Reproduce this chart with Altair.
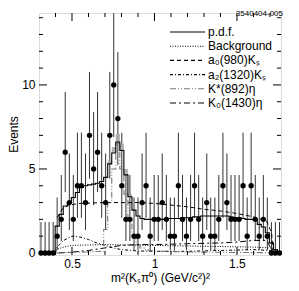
import altair as alt
import pandas as pd

# ---------------- data ----------------
x_bins = [0.312, 0.337, 0.361, 0.386, 0.410, 0.435, 0.459, 0.484, 0.508, 0.533,
          0.557, 0.582, 0.606, 0.631, 0.655, 0.680, 0.704, 0.729, 0.753, 0.778,
          0.802, 0.827, 0.851, 0.876, 0.900, 0.925, 0.949, 0.974, 0.998, 1.023,
          1.047, 1.072, 1.096, 1.121, 1.145, 1.170, 1.194, 1.219, 1.243, 1.268,
          1.292, 1.317, 1.341, 1.366, 1.390, 1.415, 1.439, 1.464, 1.488, 1.513,
          1.537, 1.562, 1.586, 1.611, 1.635, 1.660, 1.684, 1.709, 1.733, 1.758]

counts = [0, 0, 0, 0, 1, 2, 6, 3, 2, 4,
          4, 3, 7, 5, 6, 4, 3, 7, 10, 8,
          4, 2, 2, 1, 1, 3, 4, 1, 2, 2,
          3, 2, 1, 1, 4, 2, 1, 2, 4, 2,
          1, 3, 1, 1, 2, 4, 3, 2, 2, 2,
          4, 1, 4, 2, 1, 2, 1, 0, 0, 0]

# Poisson error bars (upper / lower) by count
err_up = {0: 1.84, 1: 2.30, 2: 2.64, 3: 2.92, 4: 3.16, 5: 3.38, 6: 3.58, 7: 3.77, 8: 3.95, 10: 4.27}
err_dn = {0: 0.0, 1: 0.83, 2: 1.29, 3: 1.63, 4: 1.91, 5: 2.16, 6: 2.38, 7: 2.58, 8: 2.77, 10: 3.11}

pdf = [0, 0, 0, 0, 1.6, 2.3, 2.8, 3.0, 3.3, 3.6,
       3.9, 4.0, 4.05, 4.1, 4.15, 4.25, 4.5, 5.3, 5.95, 6.6,
       6.1, 4.65, 3.35, 2.55, 2.2, 2.05, 2.0, 2.0, 2.0, 2.0,
       2.0, 2.0, 2.05, 2.05, 2.05, 2.1, 2.1, 2.1, 2.15, 2.15,
       2.2, 2.2, 2.2, 2.2, 2.2, 2.2, 2.2, 2.15, 2.1, 2.1,
       2.05, 2.0, 2.0, 1.95, 1.7, 1.55, 1.2, 0.6, 0.2, 0]

# gray band over the peak (bins 16..23)
band_x = [0.704, 0.729, 0.753, 0.778, 0.802, 0.827, 0.851, 0.876]
band_lo = [4.5, 5.3, 5.95, 6.6, 6.1, 4.65, 3.35, 2.55]
band_hi = [4.6, 5.5, 6.3, 7.1, 6.5, 5.0, 3.5, 2.6]

kstar = [0, 0, 0, 0, 0, 0, 0.02, 0.03, 0.04, 0.05,
         0.05, 0.06, 0.07, 0.08, 0.09, 0.1, 1.4, 3.0, 5.0, 6.5,
         5.0, 3.5, 2.0, 1.0, 0.5, 0.3, 0.2, 0.15, 0.12, 0.1,
         0.1, 0.1, 0.08, 0.08, 0.07, 0.07, 0.06, 0.06, 0.05, 0.05,
         0.05, 0.05, 0.04, 0.04, 0.04, 0.04, 0.03, 0.03, 0.03, 0.03,
         0.03, 0.03, 0.02, 0.02, 0.02, 0.02, 0.02, 0, 0, 0]

a0_x = [0.41, 0.44, 0.48, 0.55, 0.70, 0.90, 1.00, 1.10, 1.20, 1.30, 1.40, 1.50, 1.60, 1.68, 1.71, 1.72]
a0_y = [2.1, 2.6, 2.85, 2.95, 3.0, 3.0, 2.95, 2.85, 2.75, 2.6, 2.5, 2.35, 2.15, 1.9, 1.2, 0.0]

a2_x = [0.40, 0.41, 0.45, 0.50, 0.55, 0.60, 0.65, 0.70, 0.75, 0.80, 0.90, 1.00, 1.20, 1.40, 1.60, 1.70, 1.72]
a2_y = [0.0, 0.35, 0.75, 1.0, 0.95, 0.8, 0.6, 0.45, 0.3, 0.2, 0.12, 0.1, 0.1, 0.15, 0.2, 0.15, 0.0]

k0_x = [0.42, 0.50, 0.60, 0.70, 0.80, 0.90, 1.00, 1.20, 1.40, 1.50, 1.60, 1.68, 1.72]
k0_y = [0.0, 0.05, 0.15, 0.3, 0.45, 0.5, 0.5, 0.55, 0.6, 0.65, 0.75, 0.75, 0.0]

bkg_x = [0.40, 0.45, 0.50, 0.70, 1.00, 1.30, 1.60, 1.71, 1.72]
bkg_y = [0.2, 0.35, 0.45, 0.5, 0.45, 0.4, 0.35, 0.3, 0.0]

legend_labels = ["p.d.f.", "Background", "a\u2080(980)K\u209b", "a\u2082(1320)K\u209b",
                 "K*(892)\u03b7", "K\u2080(1430)\u03b7"]

x_major = [0.5, 1.0, 1.5]
x_minor = [0.4, 0.6, 0.7, 0.8, 0.9, 1.1, 1.2, 1.3, 1.4, 1.6, 1.7]
y_major = [0, 5, 10]
y_minor = [1, 2, 3, 4, 6, 7, 8, 9, 11, 12, 13, 14]

# ---------------- styling ----------------
W, H = 242, 242
FONT = "Liberation Sans"
X_DOM = [0.3, 1.767]
Y_DOM = [-0.12, 14.28]
xs = alt.Scale(domain=X_DOM, nice=False, zero=False)
ys = alt.Scale(domain=Y_DOM, nice=False, zero=False)

styles = {
    "pdf": dict(color="black", dash=[1, 0]),
    "bkg": dict(color="black", dash=[1, 1.5]),
    "a0": dict(color="black", dash=[4, 3]),
    "a2": dict(color="black", dash=[3, 2, 1, 2]),
    "ks": dict(color="#777777", dash=[6, 2, 1, 2, 1, 2]),
    "k0": dict(color="black", dash=[6, 3, 2, 3]),
}

XAXIS = alt.Axis(values=x_major, format="~g", ticks=False, grid=False, domain=False,
                 labelFontSize=12, labelFont=FONT, labelPadding=3, labelColor="black",
                 title="m\u00b2(K\u209b\u03c0\u2070) (GeV/c\u00b2)\u00b2", titleFont=FONT,
                 titleFontSize=12, titleFontWeight="normal", titlePadding=3, titleColor="black")
YAXIS = alt.Axis(values=y_major, ticks=False, grid=False, domain=False,
                 labelFontSize=12, labelFont=FONT, labelPadding=4, labelColor="black",
                 title="Events", titleFont=FONT, titleFontSize=12, titleFontWeight="normal",
                 titleColor="black", titleX=-19, titleY=H / 2, titleAngle=270,
                 titleAlign="center", titleBaseline="bottom")


def X(f):
    return alt.X(f, scale=xs, axis=XAXIS)


def Y(f):
    return alt.Y(f, scale=ys, axis=YAXIS)


pts = pd.DataFrame({
    "x": x_bins,
    "n": counts,
    "lo": [c - err_dn[c] for c in counts],
    "hi": [c + err_up[c] for c in counts],
    "pdf": pdf,
    "ks": kstar,
})

base = alt.Chart(pts)

errbars = base.mark_rule(color="#333333", strokeWidth=1, clip=True).encode(
    x=X("x:Q"), y=Y("lo:Q"), y2="hi:Q")

band = alt.Chart(pd.DataFrame({"x": band_x, "lo": band_lo, "hi": band_hi})).mark_area(
    interpolate="step", color="#aaaaaa", opacity=0.9).encode(
    x=X("x:Q"), y=Y("lo:Q"), y2="hi:Q")

pdf_line = base.mark_line(interpolate="step", color="black", strokeWidth=1.1).encode(
    x=X("x:Q"), y=Y("pdf:Q"))

ks_line = base.mark_line(interpolate="step", color=styles["ks"]["color"], strokeWidth=1.1,
                         strokeDash=styles["ks"]["dash"]).encode(
    x=X("x:Q"), y=Y("ks:Q"))


def comp(xv, yv, key):
    st = styles[key]
    return alt.Chart(pd.DataFrame({"x": xv, "y": yv})).mark_line(
        color=st["color"], strokeWidth=1, strokeDash=st["dash"], clip=True).encode(
        x=X("x:Q"), y=Y("y:Q"))


a0_line = comp(a0_x, a0_y, "a0")
a2_line = comp(a2_x, a2_y, "a2")
k0_line = comp(k0_x, k0_y, "k0")
bkg_line = comp(bkg_x, bkg_y, "bkg")

dots = base.mark_circle(size=28, color="black", opacity=1).encode(
    x=X("x:Q"), y=Y("n:Q"))

# inward tick marks on all four sides
tick_layers = []
for vals, ln in [(x_major, 8), (x_minor, 4)]:
    d = alt.Chart(pd.DataFrame({"v": vals}))
    tick_layers.append(d.mark_rule(color="black", strokeWidth=1).encode(
        x=X("v:Q"), y=alt.value(H), y2=alt.value(H - ln)))
    tick_layers.append(d.mark_rule(color="black", strokeWidth=1).encode(
        x=X("v:Q"), y=alt.value(0), y2=alt.value(ln)))
for vals, ln in [(y_major, 8), (y_minor, 4)]:
    d = alt.Chart(pd.DataFrame({"v": vals}))
    tick_layers.append(d.mark_rule(color="black", strokeWidth=1).encode(
        y=Y("v:Q"), x=alt.value(0), x2=alt.value(ln)))
    tick_layers.append(d.mark_rule(color="black", strokeWidth=1).encode(
        y=Y("v:Q"), x=alt.value(W), x2=alt.value(W - ln)))

# hand-drawn legend
legend_layers = []
keys = ["pdf", "bkg", "a0", "a2", "ks", "k0"]
for i, (lab, key) in enumerate(zip(legend_labels, keys)):
    st = styles[key]
    row_y = 19 + 14.2 * i
    legend_layers.append(alt.Chart(pd.DataFrame({"t": [lab]})).mark_rule(
        color=st["color"], strokeWidth=1.1, strokeDash=st["dash"]).encode(
        x=alt.value(131), x2=alt.value(166), y=alt.value(row_y)))
    legend_layers.append(alt.Chart(pd.DataFrame({"t": [lab]})).mark_text(
        align="left", baseline="middle", font=FONT, fontSize=12, color="black").encode(
        x=alt.value(169), y=alt.value(row_y), text="t:N"))

tag = alt.Chart(pd.DataFrame({"t": ["3540404-005"]})).mark_text(
    align="right", baseline="alphabetic", font=FONT, fontSize=8, color="black").encode(
    x=alt.value(W + 2), y=alt.value(2.5), text="t:N")

chart = alt.layer(
    errbars, band, bkg_line, a2_line, k0_line, a0_line, ks_line, pdf_line, dots,
    *tick_layers, *legend_layers, tag
).properties(
    width=W, height=H,
    autosize=alt.AutoSizeParams(type="none"),
    padding={"left": 31, "top": 5, "right": 10, "bottom": 32},
).configure_view(stroke="black", strokeWidth=1.2).configure(background="white")

chart.save("out.html", embed_options={"renderer": "svg", "actions": False})
